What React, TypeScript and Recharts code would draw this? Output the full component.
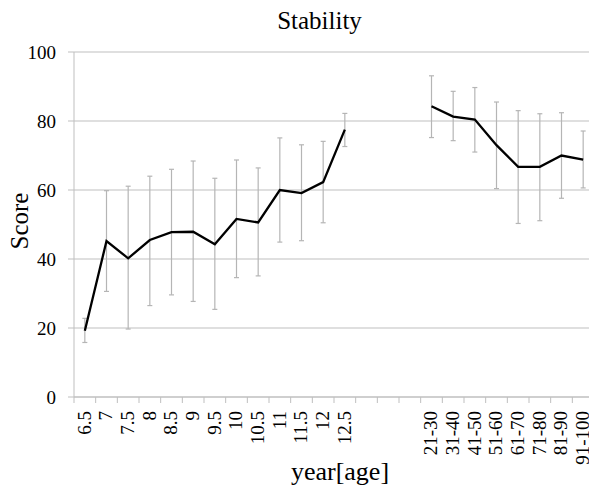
import { LineChart, Line, XAxis, YAxis, CartesianGrid, ErrorBar } from "recharts";

const childAges = ["6.5", "7", "7.5", "8", "8.5", "9", "9.5", "10", "10.5", "11", "11.5", "12", "12.5"];
const gapSlots = [" ", "  ", "   "];
const adultGroups = ["21-30", "31-40", "41-50", "51-60", "61-70", "71-80", "81-90", "91-100"];

const childScore = [19.2, 45.2, 40.2, 45.5, 47.8, 47.9, 44.3, 51.6, 50.6, 60.0, 59.1, 62.3, 77.5];
const childUpper = [22.8, 59.8, 61.1, 64.0, 66.0, 68.4, 63.4, 68.7, 66.4, 75.1, 73.1, 74.1, 82.2];
const childLower = [15.8, 30.6, 19.7, 26.5, 29.6, 27.7, 25.4, 34.6, 35.1, 44.9, 45.3, 50.5, 72.6];

const adultScore = [84.3, 81.3, 80.4, 73.0, 66.7, 66.7, 70.0, 68.8];
const adultUpper = [93.1, 88.6, 89.7, 85.5, 83.0, 82.1, 82.4, 77.1];
const adultLower = [75.2, 74.3, 71.0, 60.4, 50.3, 51.1, 57.6, 60.6];

const yTicks = [0, 20, 40, 60, 80, 100];

const data = [
  ...childAges.map((name, i) => ({
    name,
    score: childScore[i],
    err: [childScore[i] - childLower[i], childUpper[i] - childScore[i]],
  })),
  ...gapSlots.map((name) => ({ name, score: null, err: null })),
  ...adultGroups.map((name, i) => ({
    name,
    score: adultScore[i],
    err: [adultScore[i] - adultLower[i], adultUpper[i] - adultScore[i]],
  })),
];

const FONT = "'Liberation Serif', 'Times New Roman', serif";
const GREY = "#bfbfbf";
const CHART_W = 594;
const CHART_H = 487;
const Y_W = 74;
const STEP = (CHART_W - Y_W) / data.length;

// Excel-style ticks: marks sit between categories, labels read bottom-up
const XTick = (props: any) => {
  const { x, y, payload } = props;
  const half = STEP / 2;
  const ty = y + 14;
  return (
    <g>
      <line x1={x - half} x2={x - half} y1={y} y2={y + 6} stroke={GREY} />
      <text
        x={x}
        y={ty}
        transform={`rotate(-90 ${x} ${ty})`}
        textAnchor="end"
        dy="0.3em"
        fontSize={19}
        fontFamily={FONT}
        fill="#000"
      >
        {payload.value}
      </text>
    </g>
  );
};

export default function App() {
  return (
    <div style={{ position: "absolute", left: 0, top: 0, width: 589, height: 487, overflow: "hidden", background: "#fff" }}>
      <LineChart width={CHART_W} height={CHART_H} data={data} margin={{ top: 52, right: 0, left: 0, bottom: 0 }}>
        <CartesianGrid vertical={false} stroke={GREY} />
        <XAxis
          dataKey="name"
          interval={0}
          height={90}
          stroke={GREY}
          tickLine={false}
          tickSize={0}
          tickMargin={0}
          padding={{ left: STEP / 2, right: STEP / 2 }}
          tick={<XTick />}
        />
        <YAxis
          width={Y_W}
          domain={[0, 100]}
          ticks={yTicks}
          stroke={GREY}
          tickSize={6}
          tickMargin={12}
          tick={{ fill: "#000", fontSize: 19, fontFamily: FONT }}
        />
        <Line
          dataKey="score"
          stroke="#000"
          strokeWidth={2.3}
          dot={false}
          connectNulls={false}
          isAnimationActive={false}
        >
          <ErrorBar dataKey="err" width={2.5} stroke="#b5b5b5" strokeWidth={1.2} direction="y" />
        </Line>
      </LineChart>
      <svg width={589} height={487} style={{ position: "absolute", left: 0, top: 0, pointerEvents: "none" }}>
        <text x={319.5} y={29} textAnchor="middle" fontSize={25} fontFamily={FONT} fill="#000">
          Stability
        </text>
        <text
          x={28}
          y={221}
          transform="rotate(-90 28 221)"
          textAnchor="middle"
          fontSize={25}
          fontFamily={FONT}
          fill="#000"
        >
          Score
        </text>
        <text x={340} y={480} textAnchor="middle" fontSize={26} fontFamily={FONT} fill="#000">
          year[age]
        </text>
      </svg>
    </div>
  );
}
